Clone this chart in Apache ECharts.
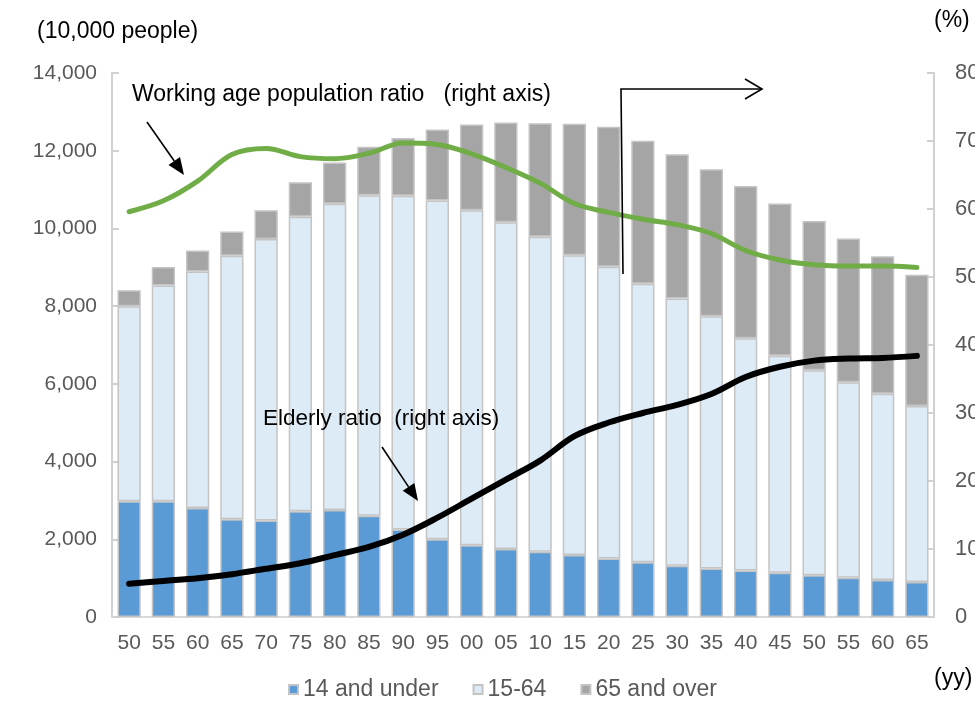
<!DOCTYPE html>
<html>
<head>
<meta charset="utf-8">
<script src="https://cdn.jsdelivr.net/npm/echarts@6/dist/echarts.min.js"></script>
<style>
  html, body { margin: 0; padding: 0; background: #ffffff; }
  #chart { width: 975px; height: 702px; }
</style>
</head>
<body>
<div id="chart"></div>
<script>
// Population by age group (10,000 people) and ratios (%)
const years = ['50','55','60','65','70','75','80','85','90','95','00','05',
               '10','15','20','25','30','35','40','45','50','55','60','65'];
const under14 = [2979, 2980, 2808, 2517, 2482, 2722, 2751, 2603, 2249, 2001, 1847, 1752,
                 1680, 1595, 1503, 1407, 1321, 1246, 1194, 1138, 1077, 1012, 951, 898];
const age15to64 = [5017, 5549, 6082, 6780, 7245, 7581, 7883, 8251, 8590, 8716, 8622, 8409,
                   8103, 7715, 7509, 7170, 6875, 6494, 5978, 5584, 5275, 5028, 4793, 4529];
const over65 = [416, 479, 540, 624, 739, 887, 1065, 1247, 1489, 1826, 2204, 2567,
                2925, 3387, 3603, 3677, 3716, 3782, 3921, 3919, 3841, 3704, 3540, 3381];
const workingRatio = [59.6, 61.2, 64.1, 68.0, 68.9, 67.7, 67.4, 68.2, 69.7, 69.5, 68.1, 66.1,
                      63.8, 60.8, 59.5, 58.5, 57.7, 56.4, 53.9, 52.5, 51.8, 51.6, 51.6, 51.4];
const elderlyRatio = [4.9, 5.3, 5.7, 6.3, 7.1, 7.9, 9.1, 10.3, 12.1, 14.6, 17.4, 20.2,
                      23.0, 26.6, 28.6, 30.0, 31.2, 32.8, 35.3, 36.8, 37.7, 38.0, 38.1, 38.4];

const FONT = '"Liberation Sans", Arial, Helvetica, sans-serif';
const AXIS_GRAY = '#D0D0D0';
const LABEL_GRAY = '#595959';

// Straight arrow with a filled triangular head
function arrow(x1, y1, x2, y2, headLen, headHalf) {
  const dx = x2 - x1, dy = y2 - y1, len = Math.hypot(dx, dy);
  const ux = dx / len, uy = dy / len;
  const bx = x2 - ux * headLen, by = y2 - uy * headLen;
  const px = -uy * headHalf, py = ux * headHalf;
  return [
    { type: 'line', shape: { x1: x1, y1: y1, x2: bx, y2: by },
      style: { stroke: '#000', lineWidth: 1.6 }, z: 100 },
    { type: 'polygon', shape: { points: [[x2, y2], [bx + px, by + py], [bx - px, by - py]] },
      style: { fill: '#000' }, z: 100 }
  ];
}

const chart = echarts.init(document.getElementById('chart'), null, { renderer: 'canvas' });

const barBorder = { borderColor: '#C4C4C4', borderWidth: 1.5 };

const option = {
  animation: false,
  backgroundColor: '#ffffff',
  textStyle: { fontFamily: FONT },
  grid: { left: 112, right: 41, top: 73, bottom: 85, containLabel: false, outerBoundsMode: 'none' },
  legend: {
    data: ['14 and under', '15-64', '65 and over'],
    left: 283, top: 673,
    icon: 'rect', itemWidth: 9, itemHeight: 9, itemGap: 34,
    textStyle: { fontFamily: FONT, fontSize: 23, color: LABEL_GRAY }
  },
  xAxis: {
    type: 'category',
    data: years,
    axisLine: { lineStyle: { color: '#D9D9D9', width: 2 } },
    axisTick: { show: false },
    axisLabel: { interval: 0, margin: 16, fontFamily: FONT, fontSize: 21, color: LABEL_GRAY }
  },
  yAxis: [
    {
      type: 'value', min: 0, max: 14000, interval: 2000,
      axisLine: { show: true, lineStyle: { color: AXIS_GRAY, width: 2 } },
      axisTick: { show: true, inside: true, length: 7, lineStyle: { color: AXIS_GRAY, width: 2 } },
      splitLine: { show: false },
      axisLabel: {
        margin: 15, fontFamily: FONT, fontSize: 21, color: LABEL_GRAY,
        formatter: v => v.toLocaleString('en-US')
      }
    },
    {
      type: 'value', min: 0, max: 80, interval: 10, position: 'right',
      axisLine: { show: true, lineStyle: { color: AXIS_GRAY, width: 2 } },
      axisTick: { show: true, inside: true, length: 7, lineStyle: { color: AXIS_GRAY, width: 2 } },
      splitLine: { show: false },
      axisLabel: { margin: 21, fontFamily: FONT, fontSize: 22, color: LABEL_GRAY }
    }
  ],
  series: [
    { name: '14 and under', type: 'bar', stack: 'pop', data: under14, barWidth: '68%',
      itemStyle: Object.assign({ color: '#5B9BD5' }, barBorder) },
    { name: '15-64', type: 'bar', stack: 'pop', data: age15to64, barWidth: '68%',
      itemStyle: Object.assign({ color: '#DDEBF7' }, barBorder) },
    { name: '65 and over', type: 'bar', stack: 'pop', data: over65, barWidth: '68%',
      itemStyle: Object.assign({ color: '#A5A5A5' }, barBorder) },
    { name: 'Working age population ratio', type: 'line', yAxisIndex: 1, data: workingRatio,
      smooth: 0.35, showSymbol: false, z: 5,
      lineStyle: { color: '#70AD47', width: 5, cap: 'round' } },
    { name: 'Elderly ratio', type: 'line', yAxisIndex: 1, data: elderlyRatio,
      smooth: 0.35, showSymbol: false, z: 5,
      lineStyle: { color: '#000000', width: 6, cap: 'round' } }
  ],
  graphic: [
    { type: 'text', left: 37, top: 20,
      style: { text: '(10,000 people)', font: '23px ' + FONT, fill: '#000' } },
    { type: 'text', left: 934, top: 9,
      style: { text: '(%)', font: '23px ' + FONT, fill: '#000' } },
    { type: 'text', left: 934, top: 667,
      style: { text: '(yy)', font: '23px ' + FONT, fill: '#000' } },
    { type: 'text', left: 132, top: 83, z: 100,
      style: { text: 'Working age population ratio   (right axis)', font: '23px ' + FONT, fill: '#000' } },
    { type: 'text', left: 263, top: 407, z: 100,
      style: { text: 'Elderly ratio  (right axis)', font: '22.5px ' + FONT, fill: '#000' } },
    ...arrow(147, 122, 184, 175, 17, 7),
    ...arrow(382, 447, 418, 501, 17, 7),
    { type: 'polyline', z: 100,
      shape: { points: [[623, 274], [621, 89], [762, 89]] },
      style: { stroke: '#000', lineWidth: 1.6, fill: null } },
    { type: 'polyline', z: 100,
      shape: { points: [[745, 79], [762, 89], [745, 99]] },
      style: { stroke: '#000', lineWidth: 1.6, fill: null } }
  ]
};

chart.setOption(option);
</script>
</body>
</html>
